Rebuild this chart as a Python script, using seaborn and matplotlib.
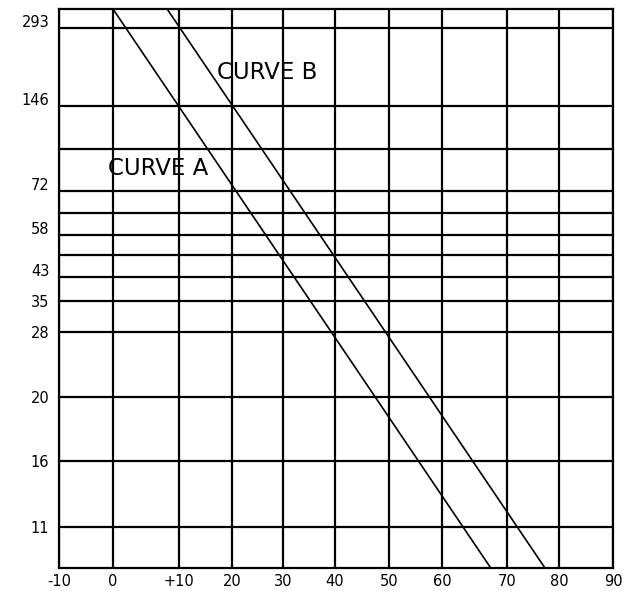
import numpy as np
import pandas as pd
import matplotlib
matplotlib.use("Agg")
import matplotlib.pyplot as plt
from matplotlib.ticker import FixedLocator, FixedFormatter, NullFormatter
from matplotlib.transforms import ScaledTranslation
import seaborn as sns

# --- data ---
x_ticks = [-10, 0, 10, 20, 30, 40, 50, 60, 70, 80, 90]
x_labels = ['-10', '0', '+10', '20', '30', '40', '50', '60', '70', '80', '90']
y_ticks = [11, 16, 20, 28, 35, 43, 58, 72, 146, 293]
y_minor = [50, 65, 100]          # unlabeled grid lines
y_limits = [8, 400]

curve_a_x = [0, 67.5]
curve_a_y = [400, 8]
curve_b_x = [8.2, 77.3]
curve_b_y = [400, 8]

# --- the printed chart's uneven grid spacing (pixel rows/cols of each value) ---
x_scale_vals = np.array(x_ticks, dtype=float)
x_scale_pix = np.array([59, 113, 179, 232, 283, 335, 389, 442, 507, 559, 613], dtype=float)
y_scale_vals = np.array([8, 11, 16, 20, 28, 35, 43, 50, 58, 65, 72, 100, 146, 293, 400], dtype=float)
y_scale_pix = np.array([568, 527, 461, 397, 332, 301, 277, 255, 235, 213, 191, 149, 106, 28, 9], dtype=float)


def x_fwd(v):
    return np.interp(v, x_scale_vals, x_scale_pix)


def x_inv(p):
    return np.interp(p, x_scale_pix, x_scale_vals)


def y_fwd(v):
    return np.interp(v, y_scale_vals, -y_scale_pix)


def y_inv(p):
    return np.interp(p, -y_scale_pix, y_scale_vals)


df = pd.DataFrame({
    'x': curve_a_x + curve_b_x,
    'y': curve_a_y + curve_b_y,
    'curve': ['A'] * len(curve_a_x) + ['B'] * len(curve_b_x),
})

sns.set_theme(style="white")
plt.rcParams['font.family'] = ['DejaVu Sans']

fig = plt.figure(figsize=(6.28, 5.91), dpi=100)
ax = fig.add_axes([59 / 628, 1 - 568 / 591, (613 - 59) / 628, (568 - 9) / 591])

ax.set_xscale('function', functions=(x_fwd, x_inv))
ax.set_yscale('function', functions=(y_fwd, y_inv))

sns.lineplot(data=df, x='x', y='y', hue='curve', palette=['black', 'black'],
             estimator=None, sort=False, legend=False, linewidth=1.2, ax=ax)

ax.set_xlim(x_ticks[0], x_ticks[-1])
ax.set_ylim(y_limits[0], y_limits[1])

ax.xaxis.set_major_locator(FixedLocator(x_ticks))
ax.xaxis.set_major_formatter(FixedFormatter(x_labels))
ax.yaxis.set_major_locator(FixedLocator(y_ticks))
ax.yaxis.set_major_formatter(FixedFormatter([str(v) for v in y_ticks]))
ax.yaxis.set_minor_locator(FixedLocator(y_minor))
ax.yaxis.set_minor_formatter(NullFormatter())

ax.grid(True, which='major', color='black', linewidth=1.6)
ax.grid(True, which='minor', axis='y', color='black', linewidth=1.6)
ax.tick_params(which='both', length=0)
ax.tick_params(axis='x', pad=4, labelsize=10.5, colors='black')
ax.tick_params(axis='y', pad=7, labelsize=10.5, colors='black')
for s in ax.spines.values():
    s.set_color('black')
    s.set_linewidth(1.6)

ax.set_xlabel('')
ax.set_ylabel('')

# upper labels sit a little above their lines in the original
fig.canvas.draw()
shift = ScaledTranslation(0, 5 / 72, fig.dpi_scale_trans)
for val, tick in zip(y_ticks, ax.yaxis.get_major_ticks(len(y_ticks))):
    if val >= 43:
        tick.label1.set_transform(tick.label1.get_transform() + shift)

ax.text(17.2, 210, 'CURVE B', fontsize=16.5, ha='left', va='center', color='black')
ax.text(-0.9, 87, 'CURVE A', fontsize=16.5, ha='left', va='center', color='black')

fig.savefig('out.png', dpi=100)
